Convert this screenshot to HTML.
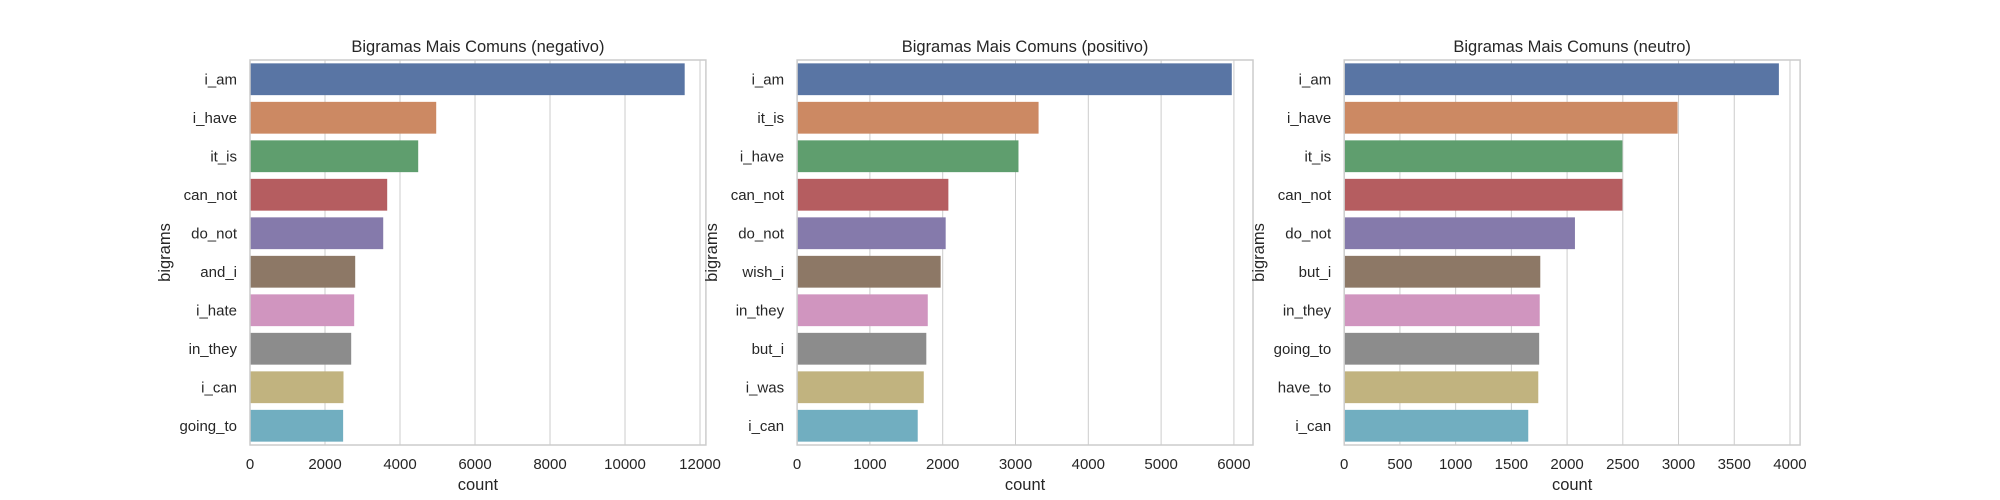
<!DOCTYPE html>
<html><head><meta charset="utf-8"><style>
html,body{margin:0;padding:0;background:#fff;}
svg{display:block;font-family:"Liberation Sans",Arial,sans-serif;}
</style></head><body>
<svg id="chart" width="2000" height="500" viewBox="0 0 2000 500" xmlns="http://www.w3.org/2000/svg"></svg>
<script>
const titles = ["Bigramas Mais Comuns (negativo)","Bigramas Mais Comuns (positivo)","Bigramas Mais Comuns (neutro)"];
const negLabels = ["i_am","i_have","it_is","can_not","do_not","and_i","i_hate","in_they","i_can","going_to"];
const negValues = [11578,4952,4472,3645,3539,2792,2765,2685,2480,2470];
const negTicks = [0,2000,4000,6000,8000,10000,12000];
const posLabels = ["i_am","it_is","i_have","can_not","do_not","wish_i","in_they","but_i","i_was","i_can"];
const posValues = [5964,3310,3034,2071,2034,1965,1788,1768,1733,1650];
const posTicks = [0,1000,2000,3000,4000,5000,6000];
const neuLabels = ["i_am","i_have","it_is","can_not","do_not","but_i","in_they","going_to","have_to","i_can"];
const neuValues = [3896,2987,2492,2492,2066,1755,1750,1745,1737,1647];
const neuTicks = [0,500,1000,1500,2000,2500,3000,3500,4000];
const colors = ["#5975a4","#cc8963","#5f9e6e","#b55d60","#857aab","#8d7866","#d095bf","#8c8c8c","#c1b37f","#71aec0"];

const NS="http://www.w3.org/2000/svg";
const svgEl=document.getElementById('chart');
function mk(tag,attrs,parent){const e=document.createElementNS(NS,tag);for(const k in attrs)e.setAttribute(k,attrs[k]);(parent||svgEl).appendChild(e);return e;}

const panels=[
 {labels:negLabels,values:negValues,ticks:negTicks,x0:250,key:"negativo"},
 {labels:posLabels,values:posValues,ticks:posTicks,x0:797.1,key:"positivo"},
 {labels:neuLabels,values:neuValues,ticks:neuTicks,x0:1344.2,key:"neutro"}
];
const W=455.9, plotTop=60, H=385;
panels.forEach((p,pi)=>{
  const g=mk('g',{});
  
  
  const xmax=Math.max(...p.values)*1.05;
  const xs=v=>p.x0+v/xmax*W;
  const band=H/p.labels.length;
  const yc=i=>plotTop+band*(i+0.5);
  p.ticks.forEach(t=>{
    if(t>xmax) return;
    const l=mk('line',{x1:xs(t),x2:xs(t),y1:plotTop,y2:plotTop+H,stroke:'#cccccc','stroke-width':1},g);
    
    
    const tx=mk('text',{x:xs(t),y:plotTop+H+24,'text-anchor':'middle','font-size':'15px',fill:'#262626'},g);
    tx.textContent=t;
    
    
  });
  p.values.forEach((v,i)=>{
    const r=mk('rect',{x:p.x0,y:yc(i)-band*0.4,width:xs(v)-p.x0,height:band*0.8,fill:colors[i],stroke:colors[i],'stroke-width':1},g);
    
    
    const t=mk('text',{x:p.x0-13,y:yc(i)+5,'text-anchor':'end','font-size':'15px',fill:'#262626'},g);
    t.textContent=p.labels[i];
    
    
  });
  const f=mk('rect',{x:p.x0,y:plotTop,width:W,height:H,fill:'none',stroke:'#cccccc','stroke-width':1.5},g);
  
  
  const ti=mk('text',{x:p.x0+W/2,y:52,'text-anchor':'middle','font-size':'16.5px',fill:'#262626'},g);
  ti.textContent=titles[pi];
  
  
  const xl=mk('text',{x:p.x0+W/2,y:490,'text-anchor':'middle','font-size':'16.5px',fill:'#262626'},g);
  xl.textContent='count';
  
  
  const yx=p.x0-80, yy=plotTop+H/2;
  const yl=mk('text',{x:yx,y:yy,'text-anchor':'middle','font-size':'16.5px',fill:'#262626',transform:`rotate(-90 ${yx} ${yy})`},g);
  yl.textContent='bigrams';
  
  
});
</script>
</body></html>
